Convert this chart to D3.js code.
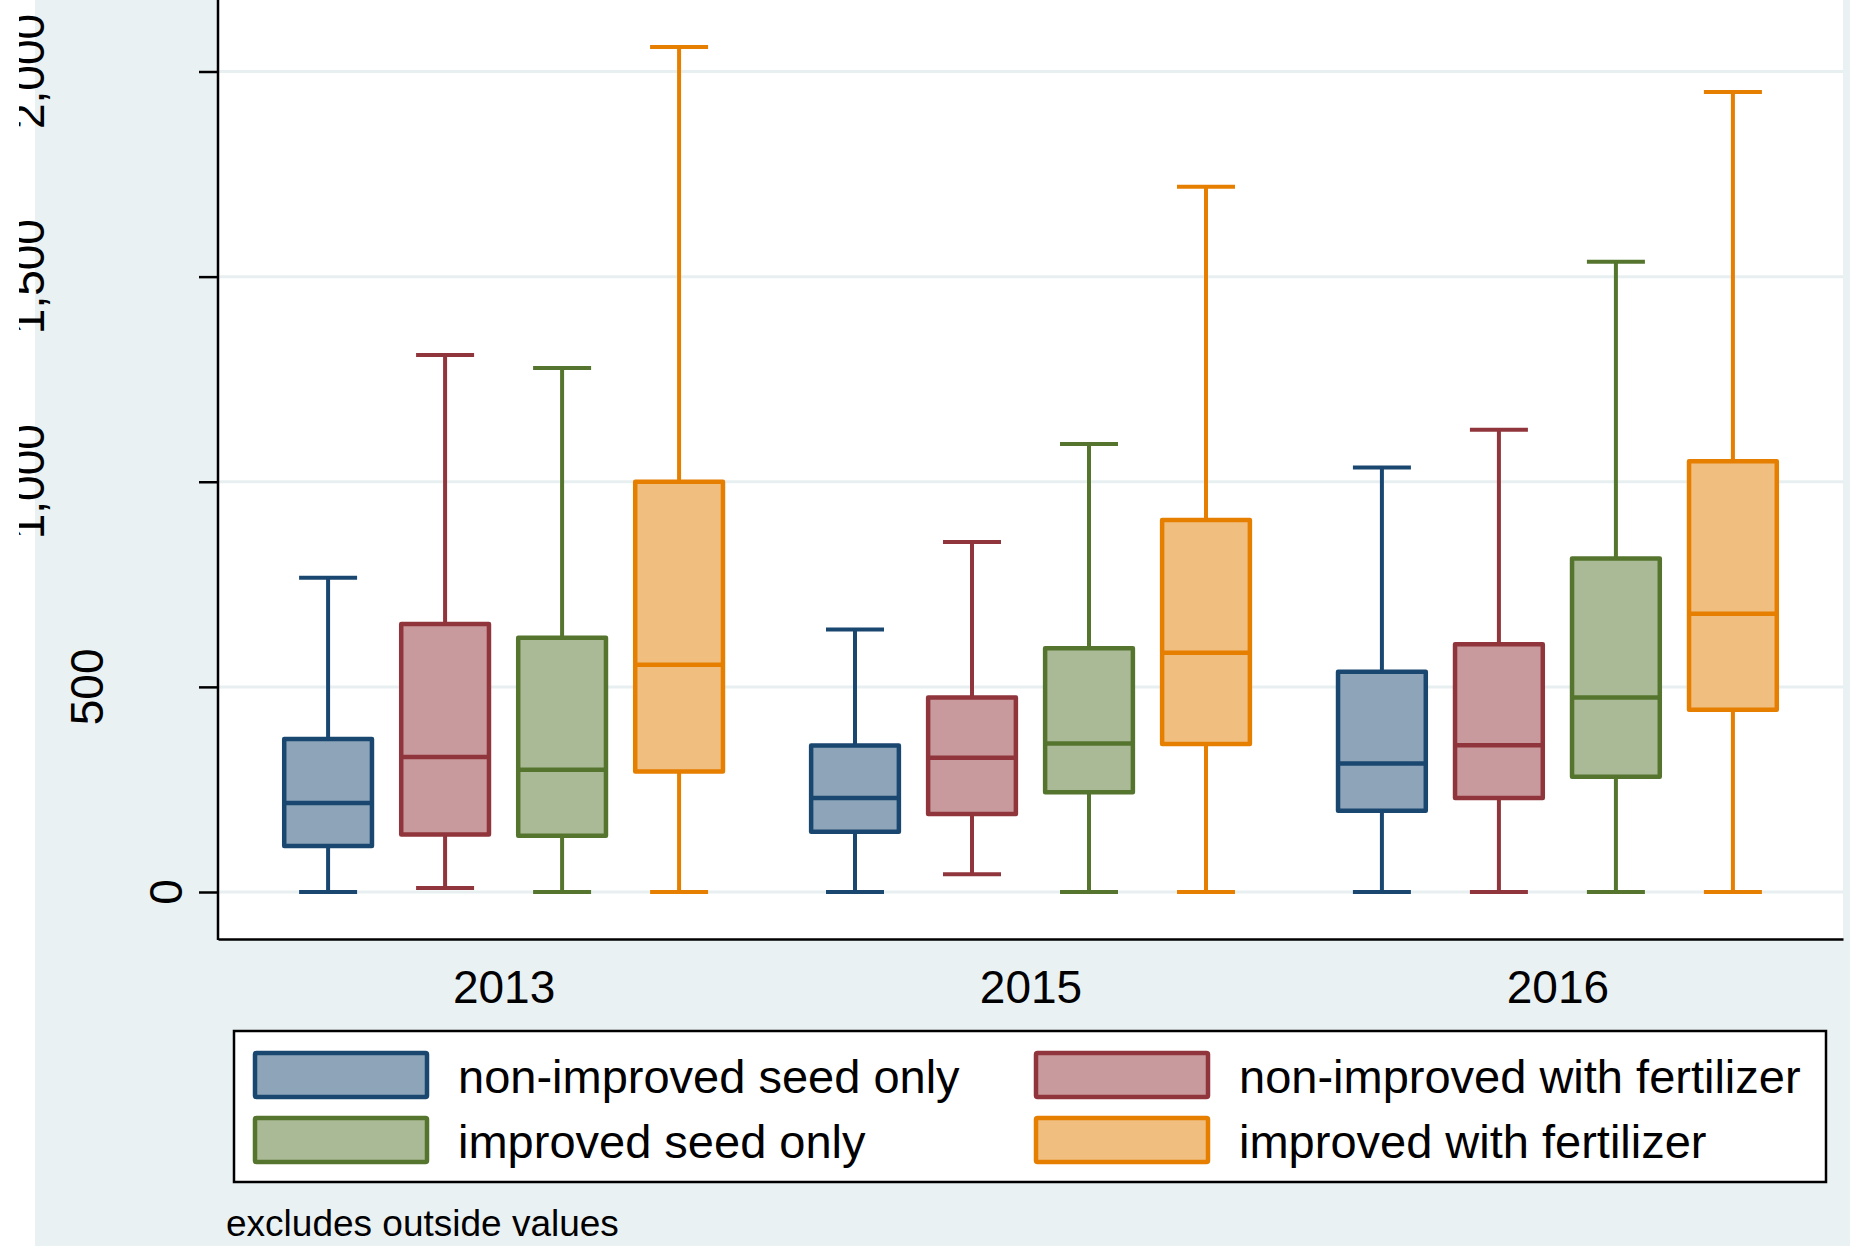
<!DOCTYPE html>
<html>
<head>
<meta charset="utf-8">
<script src="https://cdn.jsdelivr.net/npm/d3@7/dist/d3.min.js"></script>
<style>
  html, body { margin: 0; padding: 0; background: #ffffff; }
  svg { display: block; font-family: "Liberation Sans", Arial, Helvetica, sans-serif; }
</style>
</head>
<body>
<svg id="chart" width="1850" height="1246"></svg>
<script>
// Yield distribution by survey year and input package (box = quartiles, whiskers = adjacent values)
const years = ["2013", "2015", "2016"];
const groups = [
  "non-improved seed only",
  "non-improved with fertilizer",
  "improved seed only",
  "improved with fertilizer"
];
// rows: years, columns: groups
const whiskerLow  = [[0, 10, 0, 0],       [0, 43, 0, 0],       [0, 0, 0, 0]];
const quartile1   = [[112, 140, 137, 294], [147, 190, 243, 361], [198, 229, 281, 444]];
const medians     = [[217, 329, 298, 554], [229, 327, 362, 583], [313, 358, 474, 678]];
const quartile3   = [[373, 653, 620, 1000], [357, 474, 594, 907], [537, 604, 813, 1050]];
const whiskerHigh = [[766, 1309, 1277, 2060], [640, 853, 1092, 1719], [1035, 1127, 1536, 1950]];
const yTicks = [0, 500, 1000, 1500, 2000];
const note = "excludes outside values";

const lineColors = ["#1a476f", "#90353b", "#55752f", "#e67e00"];
const fillColors = ["#8ea4b8", "#c89a9d", "#abba96", "#f0bf80"];

const W = 1850, H = 1246;
const plot = { left: 218, right: 1843, top: 0, bottom: 939 };
const bg = "#eaf1f3";
const gridColor = "#e8eff1";

const svg = d3.select("#chart");

// outer background: white strip at far left, light blue elsewhere
svg.append("rect").attr("x", 0).attr("y", 0).attr("width", W).attr("height", H).attr("fill", "#ffffff");
svg.append("rect").attr("x", 35).attr("y", 0).attr("width", W - 35).attr("height", H).attr("fill", bg);

// plot region
svg.append("rect")
  .attr("x", plot.left).attr("y", plot.top - 5)
  .attr("width", plot.right - plot.left).attr("height", plot.bottom - plot.top + 5)
  .attr("fill", "#ffffff");

const y = d3.scaleLinear().domain([0, 2000]).range([892, 71.5]);
const x = d3.scalePoint().domain(years).range([plot.left, plot.right]).padding(0.542);
const inner = d3.scaleBand().domain(groups).range([-234, 234]).paddingInner(0.25).paddingOuter(0.125);

// gridlines
svg.append("g").selectAll("line").data(yTicks).join("line")
  .attr("x1", plot.left).attr("x2", plot.right)
  .attr("y1", d => y(d)).attr("y2", d => y(d))
  .attr("stroke", gridColor).attr("stroke-width", 3);

// y axis ticks
const yAxis = svg.append("g").attr("transform", `translate(${plot.left},0)`)
  .call(d3.axisLeft(y).tickValues(yTicks).tickSize(19).tickFormat(""));
yAxis.select(".domain").remove();
yAxis.selectAll(".tick line").attr("stroke", "#000").attr("stroke-width", 2.5);
svg.append("line")
  .attr("x1", plot.left).attr("x2", plot.left)
  .attr("y1", plot.top - 5).attr("y2", plot.bottom + 1)
  .attr("stroke", "#000").attr("stroke-width", 2.5);

// rotated y tick labels, clipped at the left edge
svg.append("clipPath").attr("id", "ylabClip")
  .append("rect").attr("x", 19).attr("y", 0).attr("width", 200).attr("height", H);
const fmt = d3.format(",");
const ylab = svg.append("g").attr("clip-path", "url(#ylabClip)");
ylab.selectAll("text").data(yTicks).join("text")
  .text(d => fmt(d))
  .attr("font-size", 46)
  .attr("text-anchor", "middle")
  .attr("fill", "#000")
  .each(function(d) {
    const w = this.getComputedTextLength();
    const bx = 221.4 - 1.54 * w;
    d3.select(this).attr("transform", `translate(${bx},${y(d)}) rotate(-90)`);
  });

// x axis
const xAxis = svg.append("g").attr("transform", `translate(0,${plot.bottom})`)
  .call(d3.axisBottom(x).tickSize(0).tickSizeOuter(0).tickPadding(31));
xAxis.select(".domain").attr("stroke", "#000").attr("stroke-width", 2.5);
xAxis.selectAll(".tick text")
  .attr("font-size", 46).attr("fill", "#000")
  .attr("font-family", "Liberation Sans, Arial, sans-serif");

// boxes
const cells = [];
years.forEach((yr, i) => groups.forEach((g, j) => cells.push({
  yr, g, j,
  lo: whiskerLow[i][j], q1: quartile1[i][j], med: medians[i][j],
  q3: quartile3[i][j], hi: whiskerHigh[i][j]
})));

const bw = inner.bandwidth();
const capW = 58;
const boxes = svg.append("g").selectAll("g").data(cells).join("g")
  .attr("transform", d => `translate(${x(d.yr) + inner(d.g) + bw / 2},0)`);

// whiskers
boxes.append("line")
  .attr("x1", 0).attr("x2", 0)
  .attr("y1", d => y(d.hi)).attr("y2", d => y(d.q3))
  .attr("stroke", d => lineColors[d.j]).attr("stroke-width", 4);
boxes.append("line")
  .attr("x1", 0).attr("x2", 0)
  .attr("y1", d => y(d.q1)).attr("y2", d => y(d.lo))
  .attr("stroke", d => lineColors[d.j]).attr("stroke-width", 4);
boxes.append("line")
  .attr("x1", -capW / 2).attr("x2", capW / 2)
  .attr("y1", d => y(d.hi)).attr("y2", d => y(d.hi))
  .attr("stroke", d => lineColors[d.j]).attr("stroke-width", 4);
boxes.append("line")
  .attr("x1", -capW / 2).attr("x2", capW / 2)
  .attr("y1", d => y(d.lo)).attr("y2", d => y(d.lo))
  .attr("stroke", d => lineColors[d.j]).attr("stroke-width", 4);

// interquartile box and median
boxes.append("rect")
  .attr("x", -bw / 2).attr("width", bw)
  .attr("y", d => y(d.q3)).attr("height", d => y(d.q1) - y(d.q3))
  .attr("fill", d => fillColors[d.j])
  .attr("stroke", d => lineColors[d.j]).attr("stroke-width", 4.5)
  .attr("stroke-linejoin", "round");
boxes.append("line")
  .attr("x1", -bw / 2).attr("x2", bw / 2)
  .attr("y1", d => y(d.med)).attr("y2", d => y(d.med))
  .attr("stroke", d => lineColors[d.j]).attr("stroke-width", 4.5);

// legend
const legend = svg.append("g");
legend.append("rect")
  .attr("x", 234).attr("y", 1031).attr("width", 1592).attr("height", 151)
  .attr("fill", "#ffffff").attr("stroke", "#000").attr("stroke-width", 2.5);

const legendCols = [253, 1034];
const legendRows = [1051, 1116];
const items = legend.selectAll("g.item").data(groups).join("g")
  .attr("class", "item")
  .attr("transform", (d, j) => `translate(${legendCols[j % 2]},${legendRows[Math.floor(j / 2)]})`);
items.append("rect")
  .attr("x", 2).attr("y", 2).attr("width", 172).attr("height", 44)
  .attr("rx", 1.5)
  .attr("fill", (d, j) => fillColors[j])
  .attr("stroke", (d, j) => lineColors[j]).attr("stroke-width", 4.5);
items.append("text")
  .attr("x", 205).attr("y", 42)
  .attr("font-size", 47).attr("fill", "#000")
  .text(d => d);

// note
svg.append("text")
  .attr("x", 226).attr("y", 1236)
  .attr("font-size", 37).attr("fill", "#000")
  .text(note);
</script>
</body>
</html>
